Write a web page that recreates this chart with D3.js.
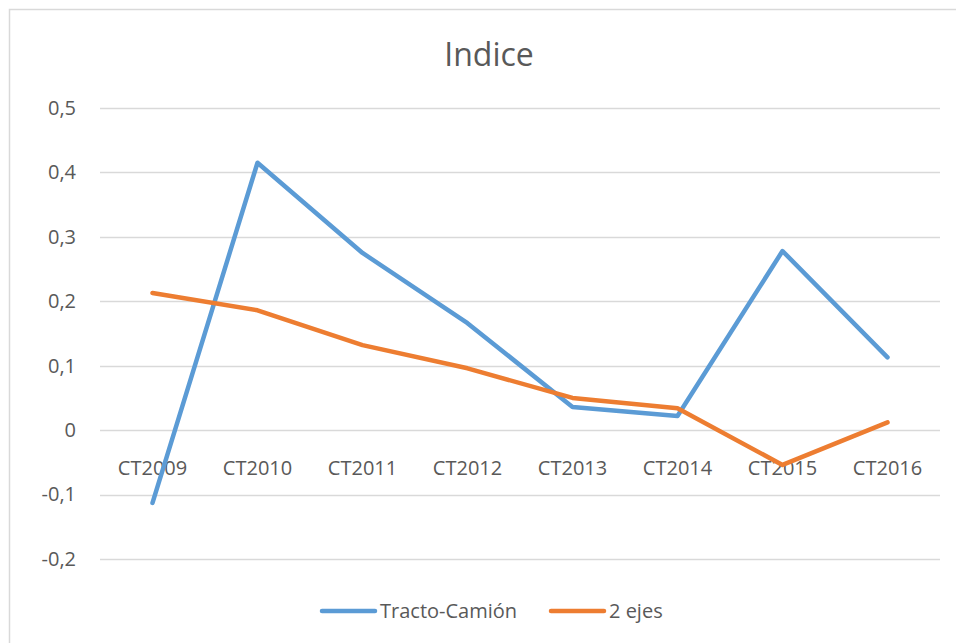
<!DOCTYPE html>
<html>
<head>
<meta charset="utf-8">
<script src="https://cdn.jsdelivr.net/npm/d3@7"></script>
<style>
  body { margin: 0; background: #fff; }
  svg { display: block; }
  svg text { font-family: 'Open Sans', 'Noto Sans', sans-serif; }
</style>
</head>
<body>
<div id="chart"></div>
<script>
const categories = ['CT2009', 'CT2010', 'CT2011', 'CT2012', 'CT2013', 'CT2014', 'CT2015', 'CT2016'];
const tractoCamion = [-0.113, 0.415, 0.275, 0.166, 0.036, 0.022, 0.278, 0.113];
const dosEjes = [0.213, 0.186, 0.132, 0.096, 0.050, 0.034, -0.054, 0.012];
const yTicks = [-0.2, -0.1, 0, 0.1, 0.2, 0.3, 0.4, 0.5];
const seriesNames = ['Tracto-Camión', '2 ejes'];
const seriesColors = ['#5b9bd5', '#ed7d31'];

const width = 956, height = 643;
const margin = { l: 100, r: 16, t: 108, b: 84 };

const svg = d3.select('#chart').append('svg')
  .attr('width', width)
  .attr('height', height);

// chart frame (cropped on the right and bottom)
svg.append('rect')
  .attr('x', 9.5).attr('y', 9.5)
  .attr('width', width + 20).attr('height', height + 20)
  .attr('fill', '#fff')
  .attr('stroke', '#d9d9d9')
  .attr('stroke-width', 1.5);

const x = d3.scaleBand()
  .domain(categories)
  .range([margin.l, width - margin.r]);

const y = d3.scaleLinear()
  .domain([-0.2, 0.5])
  .range([height - margin.b, margin.t]);

// excel style labels: comma decimal, plain hyphen
const fmt = (d) => d === 0 ? '0' : (d < 0 ? '-' : '') + Math.abs(d).toFixed(1).replace('.', ',');

// grid lines
svg.append('g')
  .attr('class', 'y-grid')
  .selectAll('line')
  .data(yTicks)
  .join('line')
    .attr('x1', margin.l)
    .attr('x2', width - margin.r)
    .attr('y1', (d) => Math.round(y(d)) + 0.5)
    .attr('y2', (d) => Math.round(y(d)) + 0.5)
    .attr('stroke', '#d9d9d9')
    .attr('stroke-width', 1.5);

// y axis labels
const yAxis = svg.append('g')
  .attr('class', 'y-axis')
  .attr('transform', `translate(${margin.l - 24},0)`)
  .call(d3.axisLeft(y).tickValues(yTicks).tickSize(0).tickPadding(0).tickFormat(fmt));
yAxis.attr('font-family', null).attr('font-size', null);
yAxis.select('.domain').remove();
yAxis.selectAll('text')
  .attr('fill', '#595959')
  .style('font-size', '20px');

// category labels just under the zero line
const xAxis = svg.append('g')
  .attr('class', 'x-axis')
  .attr('transform', `translate(0,${y(0)})`)
  .call(d3.axisBottom(x).tickSize(0).tickPadding(45));
xAxis.attr('font-family', null).attr('font-size', null);
xAxis.select('.domain').remove();
xAxis.selectAll('text')
  .attr('fill', '#595959')
  .style('font-size', '20px')
  .attr('dy', '0');

// lines
const line = d3.line()
  .x((d, i) => x(categories[i]) + x.bandwidth() / 2)
  .y((d) => y(d));

[tractoCamion, dosEjes].forEach((values, i) => {
  svg.append('path')
    .datum(values)
    .attr('fill', 'none')
    .attr('stroke', seriesColors[i])
    .attr('stroke-width', 4.5)
    .attr('stroke-linejoin', 'round')
    .attr('stroke-linecap', 'round')
    .attr('d', line);
});

// title
svg.append('text')
  .attr('x', 489)
  .attr('y', 66)
  .attr('text-anchor', 'middle')
  .attr('fill', '#595959')
  .style('font-size', '32px')
  .text('Indice');

// legend
const legendX = [322, 551];
const legend = svg.append('g').attr('class', 'legend');
seriesNames.forEach((name, i) => {
  legend.append('line')
    .attr('x1', legendX[i]).attr('x2', legendX[i] + 53)
    .attr('y1', 611).attr('y2', 611)
    .attr('stroke', seriesColors[i])
    .attr('stroke-width', 4.5)
    .attr('stroke-linecap', 'round');
  legend.append('text')
    .attr('x', legendX[i] + 58)
    .attr('y', 618)
    .attr('fill', '#595959')
    .style('font-size', '20px')
    .text(name);
});
</script>
</body>
</html>
